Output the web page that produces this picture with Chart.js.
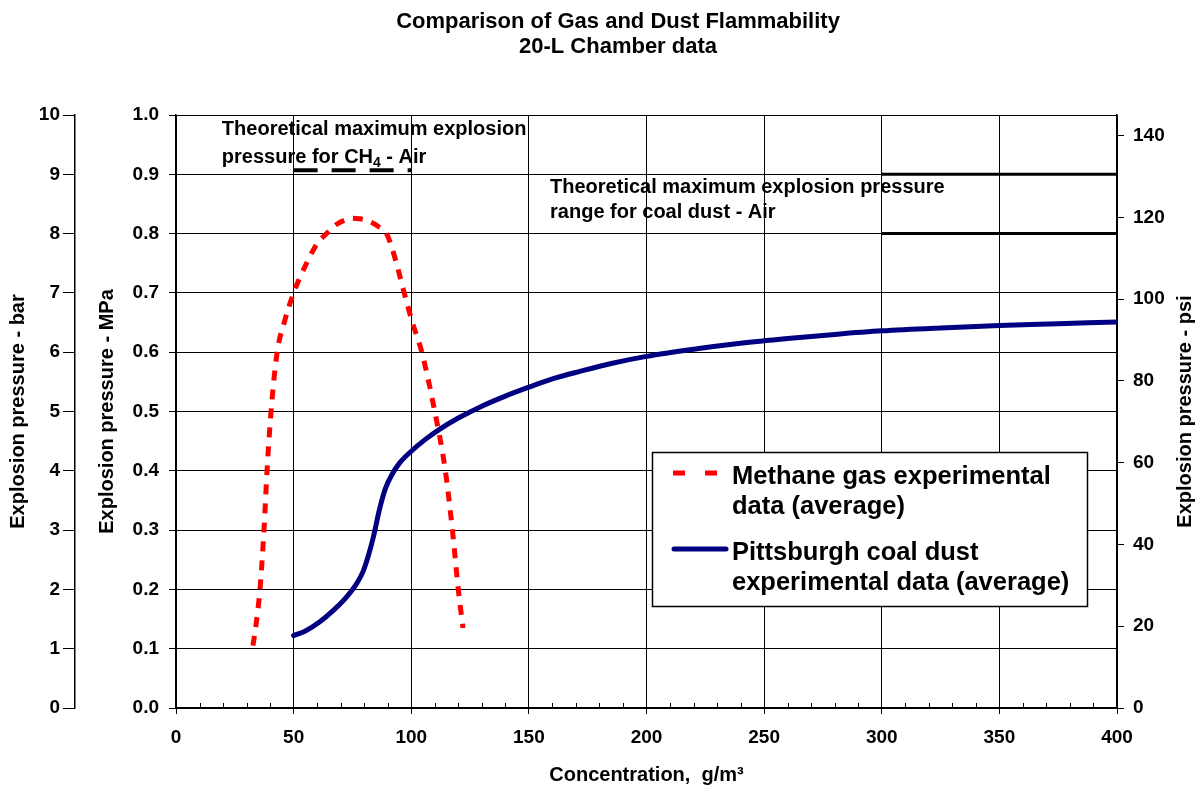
<!DOCTYPE html>
<html>
<head>
<meta charset="utf-8">
<title>Comparison of Gas and Dust Flammability</title>
<script src="https://cdn.jsdelivr.net/npm/chart.js@4.4.1/dist/chart.umd.min.js"></script>
<style>
  html, body { margin: 0; padding: 0; background: #fff; }
</style>
</head>
<body>
<canvas id="flamChart" width="1200" height="789"></canvas>
<script>
// methane gas, 20-L chamber (average)
const methaneConc = [32.7, 34, 35.7, 37.4, 38.7, 40.4, 43, 46, 50, 55.5, 60, 64, 68, 72, 75, 78, 82, 86, 89.5, 93, 97, 100.5, 104.5, 110, 114.5, 117.5, 120, 122];
const methanePressure = [0.105, 0.14, 0.2, 0.3, 0.4, 0.5, 0.6, 0.65, 0.7, 0.75, 0.783, 0.8, 0.815, 0.823, 0.826, 0.825, 0.821, 0.812, 0.8, 0.76, 0.7, 0.65, 0.6, 0.5, 0.4, 0.3, 0.2, 0.135];

// Pittsburgh coal dust (average)
const coalConc = [50, 55, 61, 67, 72, 76, 79.5, 82, 84, 86.5, 89, 92, 95, 100, 106, 112, 120, 130, 140, 150, 160, 172, 185, 200, 220, 240, 260, 280, 300, 325, 350, 375, 400];
const coalPressure = [0.122, 0.13, 0.145, 0.165, 0.185, 0.205, 0.23, 0.26, 0.29, 0.335, 0.37, 0.395, 0.413, 0.433, 0.453, 0.47, 0.489, 0.509, 0.526, 0.541, 0.555, 0.568, 0.581, 0.593, 0.605, 0.615, 0.623, 0.63, 0.636, 0.641, 0.645, 0.648, 0.651];

// theoretical maximum lines
const ch4TheoryConc = [50, 100];
const ch4TheoryPressure = [0.907, 0.907];
const coalTheoryConc = [300, 400];
const coalTheoryHigh = [0.9, 0.9];
const coalTheoryLow = [0.8, 0.8];

// tick labels
const concTicks = [0, 50, 100, 150, 200, 250, 300, 350, 400];
const mpaTicks = [0, 0.1, 0.2, 0.3, 0.4, 0.5, 0.6, 0.7, 0.8, 0.9, 1.0];
const barTicks = [0, 1, 2, 3, 4, 5, 6, 7, 8, 9, 10];
const psiTicks = [0, 20, 40, 60, 80, 100, 120, 140];
const MPA_TO_PSI = 145.04;

const titleLines = ['Comparison of Gas and Dust Flammability', '20-L Chamber data'];

const FONT = '"Liberation Sans", Arial, Helvetica, sans-serif';
Chart.defaults.font.family = FONT;
Chart.defaults.font.weight = 'bold';
Chart.defaults.color = '#000';

function pts(xs, ys) {
  return xs.map((v, i) => ({ x: v, y: ys[i] }));
}
function fixTicks(list) {
  return scale => { scale.ticks = list.map(v => ({ value: v })); };
}

// chart title, text notes inside the plot, psi title, minor ticks
const notePlugin = {
  id: 'notes',
  afterDatasetsDraw(chart) {
    const { ctx, scales: { x, y, yPsi } } = chart;
    ctx.save();
    ctx.fillStyle = '#000';
    ctx.textBaseline = 'middle';

    // title sits a little right of the canvas centre, as in the original
    ctx.textAlign = 'center';
    ctx.font = 'bold 22px ' + FONT;
    titleLines.forEach((t, i) => ctx.fillText(t, chart.width / 2 + 18, 22 + i * 25));

    ctx.textAlign = 'left';
    const big = 'bold 20px ' + FONT;
    const small = 'bold 14px ' + FONT;
    function runs(px, py, parts) {
      let cx = px;
      parts.forEach(p => {
        ctx.font = p.sub ? small : big;
        ctx.fillText(p.t, cx, p.sub ? py + 6 : py);
        cx += ctx.measureText(p.t).width;
      });
    }
    runs(x.getPixelForValue(19.5), y.getPixelForValue(0.975), [{ t: 'Theoretical maximum explosion' }]);
    runs(x.getPixelForValue(19.5), y.getPixelForValue(0.929), [{ t: 'pressure for CH' }, { t: '4', sub: true }, { t: ' - Air' }]);
    runs(x.getPixelForValue(159), y.getPixelForValue(0.877), [{ t: 'Theoretical maximum explosion pressure' }]);
    runs(x.getPixelForValue(159), y.getPixelForValue(0.835), [{ t: 'range for coal dust - Air' }]);

    // right axis title, reading bottom to top like the left ones
    ctx.save();
    ctx.translate(yPsi.right - 15, (yPsi.top + yPsi.bottom) / 2);
    ctx.rotate(-Math.PI / 2);
    ctx.textAlign = 'center';
    ctx.font = 'bold 20px ' + FONT;
    ctx.fillText('Explosion pressure - psi', 0, 0);
    ctx.restore();

    // minor ticks on the concentration axis
    ctx.strokeStyle = '#000';
    ctx.lineWidth = 1;
    for (let v = x.min + 10; v < x.max; v += 10) {
      if (v % 50 === 0) continue;
      const px = Math.round(x.getPixelForValue(v)) + 0.5;
      ctx.beginPath();
      ctx.moveTo(px, y.bottom);
      ctx.lineTo(px, y.bottom - 5);
      ctx.stroke();
    }
    ctx.restore();
  }
};

// boxed legend with two-line labels
const legendPlugin = {
  id: 'boxLegend',
  afterDraw(chart) {
    const { ctx, scales: { x, y } } = chart;
    const left = Math.round(x.getPixelForValue(202.5));
    const top = Math.round(y.getPixelForValue(0.432));
    const w = 435, h = 154;
    ctx.save();
    ctx.fillStyle = '#fff';
    ctx.fillRect(left, top, w, h);
    ctx.strokeStyle = '#000';
    ctx.lineWidth = 1.5;
    ctx.strokeRect(left + 0.5, top + 0.5, w, h);

    const m = chart.data.datasets[0];
    const c = chart.data.datasets[1];
    ctx.lineWidth = 5;
    ctx.strokeStyle = m.borderColor;
    ctx.setLineDash([12, 20]);
    ctx.beginPath();
    ctx.moveTo(left + 21, top + 21);
    ctx.lineTo(left + 65, top + 21);
    ctx.stroke();
    ctx.setLineDash([]);
    ctx.strokeStyle = c.borderColor;
    ctx.lineCap = 'round';
    ctx.beginPath();
    ctx.moveTo(left + 22, top + 97);
    ctx.lineTo(left + 74, top + 97);
    ctx.stroke();

    ctx.fillStyle = '#000';
    ctx.font = 'bold 25.5px ' + FONT;
    ctx.textBaseline = 'middle';
    ctx.textAlign = 'left';
    ctx.fillText('Methane gas experimental', left + 80, top + 25);
    ctx.fillText('data (average)', left + 80, top + 55);
    ctx.fillText('Pittsburgh coal dust', left + 80, top + 101);
    ctx.fillText('experimental data (average)', left + 80, top + 131);
    ctx.restore();
  }
};

new Chart(document.getElementById('flamChart'), {
  type: 'line',
  data: {
    datasets: [
      {
        label: 'Methane gas experimental data (average)',
        data: pts(methaneConc, methanePressure),
        borderColor: '#ff0000',
        borderWidth: 5,
        borderDash: [10, 9],
        pointRadius: 0,
        cubicInterpolationMode: 'monotone',
        fill: false
      },
      {
        label: 'Pittsburgh coal dust experimental data (average)',
        data: pts(coalConc, coalPressure),
        borderColor: '#000080',
        borderWidth: 5,
        borderCapStyle: 'round',
        pointRadius: 0,
        cubicInterpolationMode: 'monotone',
        fill: false
      },
      {
        label: 'CH4 theoretical',
        data: pts(ch4TheoryConc, ch4TheoryPressure),
        borderColor: '#000',
        borderWidth: 4,
        borderDash: [24, 14],
        pointRadius: 0
      },
      {
        label: 'Coal theoretical high',
        data: pts(coalTheoryConc, coalTheoryHigh),
        borderColor: '#000',
        borderWidth: 3,
        pointRadius: 0
      },
      {
        label: 'Coal theoretical low',
        data: pts(coalTheoryConc, coalTheoryLow),
        borderColor: '#000',
        borderWidth: 3,
        pointRadius: 0
      }
    ]
  },
  options: {
    responsive: false,
    animation: false,
    parsing: false,
    layout: { padding: { top: 115 } },
    plugins: {
      legend: { display: false },
      tooltip: { enabled: false },
      title: { display: false }
    },
    scales: {
      x: {
        type: 'linear',
        min: 0,
        max: 400,
        afterBuildTicks: fixTicks(concTicks),
        afterFit: s => { s.height = 81; },
        ticks: { font: { size: 19 }, padding: 12 },
        grid: { color: '#000', lineWidth: 1, tickLength: 6 },
        border: { color: '#000', width: 2 },
        title: {
          display: true,
          text: 'Concentration,  g/m\u00b3',
          font: { size: 20 },
          padding: { top: 0, bottom: 2 }
        }
      },
      y: {
        position: 'left',
        weight: 0,
        min: 0,
        max: 1,
        afterBuildTicks: fixTicks(mpaTicks),
        afterFit: s => { s.width = 101; },
        ticks: { font: { size: 19 }, padding: 10, callback: v => v.toFixed(1) },
        grid: { color: '#000', lineWidth: 1, tickLength: 7 },
        border: { color: '#000', width: 1.5 },
        title: {
          display: true,
          text: 'Explosion pressure - MPa',
          font: { size: 20 },
          padding: { top: 20, bottom: 0 }
        }
      },
      yBar: {
        type: 'linear',
        position: 'left',
        weight: 1,
        min: 0,
        max: 10,
        afterBuildTicks: fixTicks(barTicks),
        afterFit: s => { s.width = 75; },
        ticks: { font: { size: 19 }, padding: 3 },
        grid: { drawOnChartArea: false, color: '#000', tickLength: 12 },
        border: { color: '#000', width: 1.5 },
        title: {
          display: true,
          text: 'Explosion pressure - bar',
          font: { size: 20 },
          padding: { top: 6, bottom: 0 }
        }
      },
      yPsi: {
        type: 'linear',
        position: 'right',
        min: 0,
        max: MPA_TO_PSI,
        afterBuildTicks: fixTicks(psiTicks),
        afterFit: s => { s.width = 83; },
        ticks: { font: { size: 19 }, padding: 9 },
        grid: { drawOnChartArea: false, color: '#000', tickLength: 7 },
        border: { color: '#000', width: 1.5 },
        title: { display: false }
      }
    }
  },
  plugins: [notePlugin, legendPlugin]
});
</script>
</body>
</html>
